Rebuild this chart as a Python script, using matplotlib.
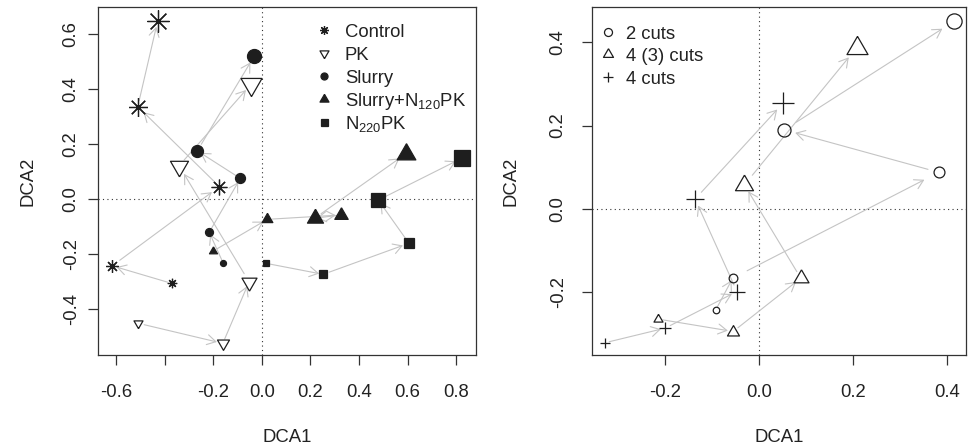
import matplotlib.pyplot as plt
import numpy as np

plt.rcParams['font.family'] = ['Liberation Sans', 'DejaVu Sans']
plt.rcParams['mathtext.default'] = 'regular'
plt.rcParams['font.size'] = 13.3

# ---- left panel: fertiliser treatments, 5 sampling dates each (in order) ----
control_x = [-0.370, -0.615, -0.174, -0.510, -0.428]
control_y = [-0.307, -0.243, 0.045, 0.336, 0.648]
pk_x = [-0.508, -0.160, -0.052, -0.340, -0.044]
pk_y = [-0.452, -0.525, -0.301, 0.121, 0.417]
slurry_x = [-0.158, -0.216, -0.088, -0.265, -0.030]
slurry_y = [-0.234, -0.121, 0.075, 0.175, 0.521]
slurry_n120_x = [-0.199, 0.023, 0.326, 0.218, 0.593]
slurry_n120_y = [-0.189, -0.074, -0.058, -0.070, 0.164]
n220_x = [0.018, 0.253, 0.606, 0.480, 0.823]
n220_y = [-0.234, -0.274, -0.161, -0.004, 0.148]
treat_labels = ['Control', 'PK', 'Slurry', 'Slurry+N$_{120}$PK', 'N$_{220}$PK']

# ---- right panel: cutting regimes ----
cut2_x = [-0.092, -0.056, 0.383, 0.054, 0.416]
cut2_y = [-0.242, -0.166, 0.088, 0.190, 0.451]
cut43_x = [-0.216, -0.055, 0.089, -0.031, 0.208]
cut43_y = [-0.264, -0.294, -0.166, 0.058, 0.387]
cut4_x = [-0.328, -0.200, -0.047, -0.136, 0.052]
cut4_y = [-0.321, -0.286, -0.198, 0.024, 0.255]
cut_labels = ['2 cuts', '4 (3) cuts', '4 cuts']

left_xticks = [-0.6, -0.4, -0.2, 0.0, 0.2, 0.4, 0.6, 0.8]
left_xticklabels = ['-0.6', '', '-0.2', '0.0', '0.2', '0.4', '0.6', '0.8']
left_yticks = [-0.4, -0.2, 0.0, 0.2, 0.4, 0.6]
left_yticklabels = ['-0.4', '-0.2', '0.0', '0.2', '0.4', '0.6']
right_ticks = [-0.2, 0.0, 0.2, 0.4]
right_ticklabels = ['-0.2', '0.0', '0.2', '0.4']

# equilateral triangles like R's pch 2 / 6 (centred on centroid)
tri_up = [(0, 1.1547), (-1, -0.5774), (1, -0.5774), (0, 1.1547)]
tri_down = [(x, -y) for x, y in tri_up]
cex = np.array([0.75, 1.0, 1.25, 1.5, 1.75])
PX = 0.72  # px -> pt at 100 dpi
INK = '#1e1e1e'
ARROW = '#c4c4c4'
FS = 13.3


def arrows(ax, xs, ys, frac=0.07):
    for i in range(len(xs) - 1):
        dx = xs[i + 1] - xs[i]
        dy = ys[i + 1] - ys[i]
        ax.annotate('', xy=(xs[i + 1] - frac * dx, ys[i + 1] - frac * dy),
                    xytext=(xs[i] + frac * dx, ys[i] + frac * dy),
                    arrowprops=dict(arrowstyle='->,head_length=0.62,head_width=0.36',
                                    color=ARROW, lw=0.8, shrinkA=0, shrinkB=0,
                                    mutation_scale=10),
                    zorder=2)


def points(ax, xs, ys, marker, base_px, filled, tri=False):
    for x, y, c in zip(xs, ys, cex):
        ms = base_px * c * PX / (0.866 if tri else 1.0)
        ax.plot(x, y, marker=marker, ms=ms, ls='none', mec=INK, mew=0.9,
                mfc=INK if filled else 'none', zorder=3)


def style(ax, xlim, ylim):
    ax.set_xlim(*xlim)
    ax.set_ylim(*ylim)
    for s in ax.spines.values():
        s.set_color('#333333')
        s.set_linewidth(0.9)
    ax.axhline(0, color='#333333', lw=0.8, ls=(0, (1, 3)), zorder=1)
    ax.axvline(0, color='#333333', lw=0.8, ls=(0, (1, 3)), zorder=1)
    ax.tick_params(direction='out', length=7.2, width=0.9, color='#333333',
                   labelcolor='#222222', labelsize=FS)
    ax.tick_params(axis='x', pad=14)


fig = plt.figure(figsize=(9.68, 4.48), dpi=100)
W, H = 968, 448

# ----------------------------------------------------------- left
ax1 = fig.add_axes([98 / W, 93 / H, 378 / W, 348 / H])
style(ax1, (-0.6737, 0.8819), (-0.5673, 0.6982))
ax1.tick_params(axis='y', pad=6)
ax1.set_xticks(left_xticks, left_xticklabels)
ax1.set_yticks(left_yticks, left_yticklabels, rotation=90, va='center')

left_series = [
    (control_x, control_y, (8, 2, 0), 12.6, False, False),
    (pk_x, pk_y, tri_down, 12.0, False, True),
    (slurry_x, slurry_y, 'o', 8.0, True, False),
    (slurry_n120_x, slurry_n120_y, tri_up, 10.7, True, True),
    (n220_x, n220_y, 's', 8.7, True, False),
]
for xs, ys, m, b, f, t in left_series:
    arrows(ax1, xs, ys)
    points(ax1, xs, ys, m, b, f, t)

# legend (no box, as in R bty="n")
leg_px = [9, 9, 7, 9, 7]
for i, ((xs, ys, m, b, f, t), lab) in enumerate(zip(left_series, treat_labels)):
    yrow = 30 + 23 * i
    ms = leg_px[i] * PX / (0.866 if t else 1.0)
    ax1.plot((324 - 98) / 378, (355 - yrow) / 348, marker=m, ms=ms, ls='none',
             mec=INK, mew=0.9, mfc=INK if f else 'none',
             transform=ax1.transAxes, clip_on=False)
    ax1.text((345 - 98) / 378, (355 - yrow - 6.7) / 348, lab, transform=ax1.transAxes,
             ha='left', va='baseline', color='#222222', fontsize=FS)

ax1.text(0.5, (355 - 437) / 348, 'DCA1', transform=ax1.transAxes,
         ha='center', va='center', color='#222222', fontsize=FS)
ax1.text((28 - 98) / 378, 0.5, 'DCA2', transform=ax1.transAxes, rotation=90,
         ha='center', va='center', color='#222222', fontsize=FS)

# ----------------------------------------------------------- right
ax2 = fig.add_axes([592 / W, 93 / H, 374 / W, 348 / H])
style(ax2, (-0.3557, 0.4409), (-0.3504, 0.4848))
ax2.tick_params(axis='y', pad=11)
ax2.set_xticks(right_ticks, right_ticklabels)
ax2.set_yticks(right_ticks, right_ticklabels, rotation=90, va='center')

right_series = [
    (cut2_x, cut2_y, 'o', 8.7, False, False),
    (cut43_x, cut43_y, tri_up, 12.0, False, True),
    (cut4_x, cut4_y, '+', 12.6, False, False),
]
for xs, ys, m, b, f, t in right_series:
    arrows(ax2, xs, ys)
    points(ax2, xs, ys, m, b, f, t)

leg2_px = [8, 10, 10]
for i, ((xs, ys, m, b, f, t), lab) in enumerate(zip(right_series, cut_labels)):
    yrow = 32 + 22.5 * i
    ms = leg2_px[i] * PX / (0.866 if t else 1.0)
    ax2.plot((608 - 592) / 374, (355 - yrow) / 348, marker=m, ms=ms, ls='none',
             mec=INK, mew=0.9, mfc='none', transform=ax2.transAxes, clip_on=False)
    ax2.text((626 - 592) / 374, (355 - yrow - 6.7) / 348, lab, transform=ax2.transAxes,
             ha='left', va='baseline', color='#222222', fontsize=FS)

ax2.text(0.5, (355 - 437) / 348, 'DCA1', transform=ax2.transAxes,
         ha='center', va='center', color='#222222', fontsize=FS)
ax2.text((511 - 592) / 374, 0.5, 'DCA2', transform=ax2.transAxes, rotation=90,
         ha='center', va='center', color='#222222', fontsize=FS)

fig.savefig('out.png', dpi=100)
